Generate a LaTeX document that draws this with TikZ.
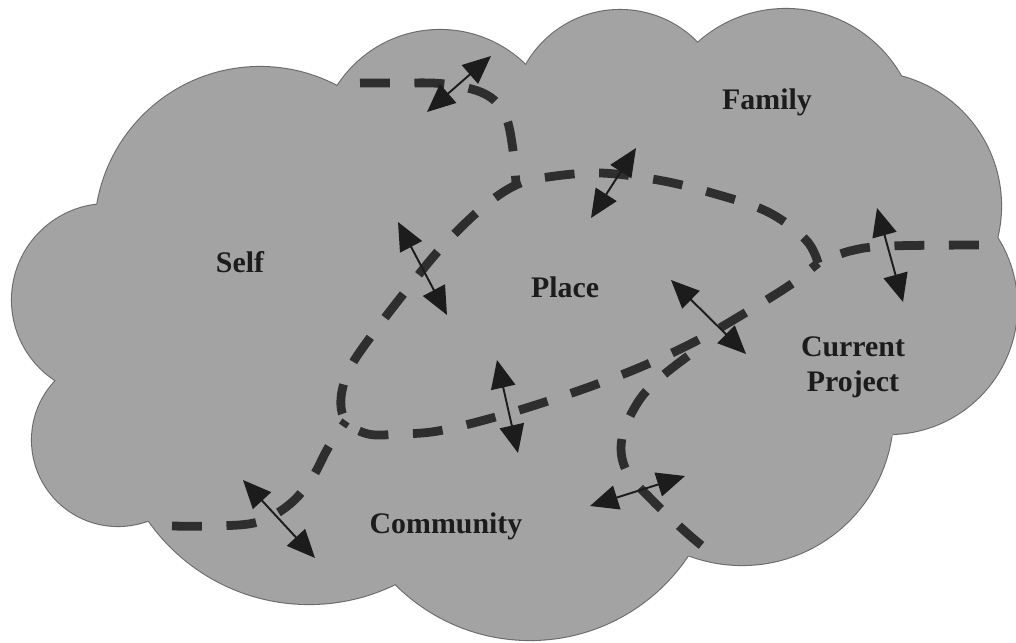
\documentclass[tikz,border=0pt]{standalone}
\usepackage{fontspec}
\setmainfont{Liberation Serif}
\usetikzlibrary{arrows.meta}
\definecolor{cloudfill}{HTML}{A3A3A3}
\definecolor{cloudline}{HTML}{6A6A6A}
\definecolor{trail}{HTML}{2E2E2E}
\definecolor{ink}{HTML}{1C1C1C}

\begin{document}
\begin{tikzpicture}[
  x=0.02cm, y=-0.02cm,
  bump/.style={fill=cloudfill},
  rim/.style={bump, draw=cloudline, line width=1.2pt},
  trail/.style={draw=trail, line width=5pt, dash pattern=on 17pt off 14pt},
  link/.style={{Triangle[length=16pt, width=14pt]}-{Triangle[length=16pt, width=14pt]}, draw=ink, line width=1.1pt},
  lbl/.style={font=\fontsize{17}{20}\selectfont\bfseries, text=ink, align=center},
]
\useasboundingbox (0,0) rectangle (1016,642);

\foreach \cx/\cy/\r in {260/232/165, 440/152/122, 620/118/108, 786/141/132, 867/206/134, 889/306/128, 742/414/151, 530/450/190, 309/408/196, 118/440/86, 108/300/96}
  \path[rim] (\cx,\cy) circle[radius=\r];
\path[bump] (98,203) -- (340,85) -- (526,65) -- (698,43) -- (901,76) -- (997,237) -- (891,438) -- (688,556) -- (395,584) -- (148,521) -- (57,380) -- cycle;
\foreach \cx/\cy/\r in {260/232/165, 440/152/122, 620/118/108, 786/141/132, 867/206/134, 889/306/128, 742/414/151, 530/450/190, 309/408/196, 118/440/86, 108/300/96}
  \path[bump] (\cx,\cy) circle[radius=\r];

\node[lbl] (self) at (240,262) {Self};
\node[lbl] (place) at (565,287) {Place};
\node[lbl] (family) at (767,102) {Family};
\node[lbl] (project) at (853,367) {Current\\Project};
\node[lbl] (community) at (446,526) {Community};

\coordinate (j1) at (818,263);
\coordinate (j2) at (516,185);
\coordinate (j4) at (745,313);
\coordinate (j5) at (346,421);
\coordinate (j6) at (688,356);
\coordinate (topend) at (360,83);
\coordinate (leftend) at (172,526);
\coordinate (rightend) at (992,245);
\coordinate (lowend) at (710,552);

\draw[trail] plot[smooth, tension=0.6] coordinates {(j1) (806,240) (768,212) (712,193) (658,180) (600,173) (548,177) (j2) (482,208) (441,248) (405,292) (372,335) (350,368) (341,398) (j5) (368,434) (400,434) (438,431) (492,418) (545,402) (600,383) (650,363) (700,339) (j4) (790,285) (j1)};
\draw[trail] plot[smooth, tension=0.6] coordinates {(topend) (400,83) (445,84) (485,94) (505,115) (513,150) (j2)};
\draw[trail] plot[smooth, tension=0.6] coordinates {(leftend) (215,526) (258,522) (290,504) (312,478) (328,448) (j5)};
\draw[trail] plot[smooth, tension=0.6] coordinates {(j6) (660,378) (638,402) (622,438) (626,470) (652,500) (688,534) (lowend)};
\draw[trail, dash phase=17pt] plot[smooth, tension=0.6] coordinates {(j1) (850,251) (890,246) (rightend)};

\coordinate (a1s) at (427,112); \coordinate (a1e) at (491,56);
\coordinate (a2s) at (591,218); \coordinate (a2e) at (636,148);
\coordinate (a3s) at (398,222); \coordinate (a3e) at (447,315);
\coordinate (a4s) at (877,208); \coordinate (a4e) at (903,302);
\coordinate (a5s) at (671,280); \coordinate (a5e) at (746,354);
\coordinate (a6s) at (497,360); \coordinate (a6e) at (518,453);
\coordinate (a7s) at (243,480); \coordinate (a7e) at (315,558);
\coordinate (a8s) at (590,506); \coordinate (a8e) at (685,476);

\draw[link] (a1s) -- (a1e);
\draw[link] (a2s) -- (a2e);
\draw[link] (a3s) -- (a3e);
\draw[link] (a4s) -- (a4e);
\draw[link] (a5s) -- (a5e);
\draw[link] (a6s) -- (a6e);
\draw[link] (a7s) -- (a7e);
\draw[link] (a8s) -- (a8e);

\end{tikzpicture}
\end{document}
